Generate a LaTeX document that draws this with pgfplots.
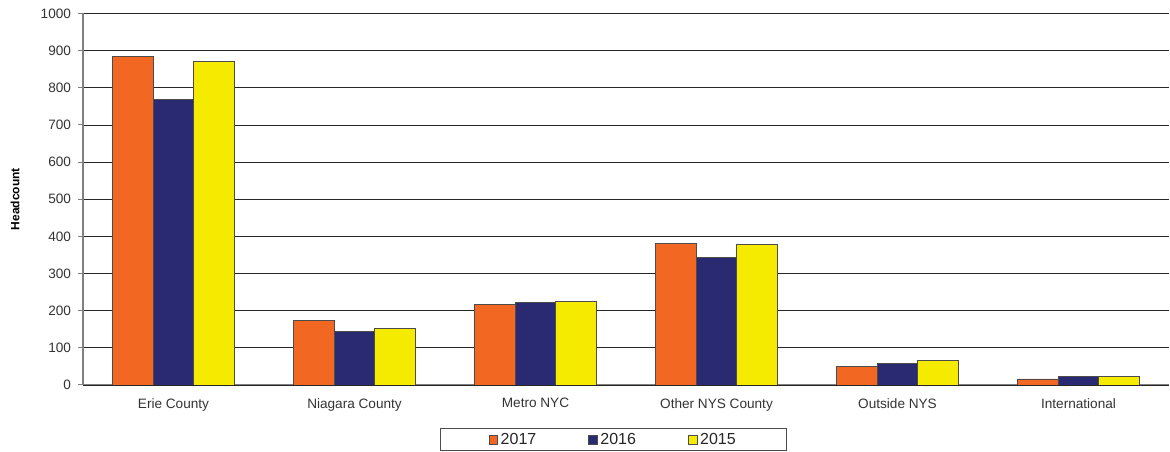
\documentclass[border=0pt]{standalone}
\usepackage{pgfplots}
\pgfplotsset{compat=1.18}
\usepackage{fontspec}
\setmainfont{Liberation Sans}
\definecolor{c17}{HTML}{F26822}
\definecolor{c16}{HTML}{2A2A72}
\definecolor{c15}{HTML}{F5EB00}
\definecolor{axgray}{HTML}{808080}
\begin{document}
\begin{tikzpicture}
\begin{axis}[
    scale only axis,
    width=814.5pt, height=278.6pt,
    ybar=0pt, bar width=0.224,
    xmin=-0.5, xmax=5.5,
    ymin=0, ymax=1000,
    ytick={0,100,...,1000},
    xtick={0,...,5},
    xticklabels={Erie County,Niagara County,Metro NYC,Other NYS County,Outside NYS,International},
    major x tick style={draw=none},
    extra x ticks={-0.5,0.5,1.5,2.5,3.5,4.5},
    extra x tick labels={},
    extra x tick style={grid=none, major tick length=3.5pt, tick style={axgray, line width=0.8pt}},
    axis x line=bottom, axis y line=left,
    axis line style={axgray, line width=0.8pt, -},
    tick align=outside,
    major tick length=3.5pt,
    y tick style={axgray, line width=0.8pt},
    ymajorgrids,
    grid style={black!85, line width=0.6pt},
    tick label style={font=\fontsize{10.2}{12}\selectfont, text=black!80},
    xticklabel style={yshift=-3pt},
    yticklabel style={xshift=-2pt},
    /pgf/number format/assume math mode=true,
    /pgf/number format/1000 sep={},
    ylabel={\bfseries Headcount},
    ylabel style={font=\fontsize{9}{10}\selectfont, at={(axis description cs:0,0.5)}, anchor=center, yshift=51pt},
    legend columns=3,
    legend style={at={(0.4885,-0.1157)}, anchor=north, draw=black!70, line width=0.6pt,
        font=\fontsize{12}{14}\selectfont, text=black!85, inner xsep=36pt, inner ysep=1.5pt,
        /tikz/every even column/.append style={column sep=37pt}},
    legend image code/.code={\draw[#1, draw=black!70, line width=0.5pt] (0pt,-3.2pt) rectangle (6.6pt,3.2pt);},
    every axis plot/.append style={draw=black!70, line width=0.6pt},
]
\addplot[fill=c17] coordinates {(0,885) (1,174) (2,217) (3,380) (4,50) (5,16)};
\addplot[fill=c16] coordinates {(0,768) (1,144) (2,223) (3,343) (4,59) (5,23)};
\addplot[fill=c15] coordinates {(0,870) (1,152) (2,224) (3,377) (4,65) (5,23)};
\legend{2017,2016,2015}
\end{axis}
\path (current axis.north west) ++(-62.25pt,10.1pt) (current axis.south east) ++(0.75pt,0);
\end{tikzpicture}
\end{document}
